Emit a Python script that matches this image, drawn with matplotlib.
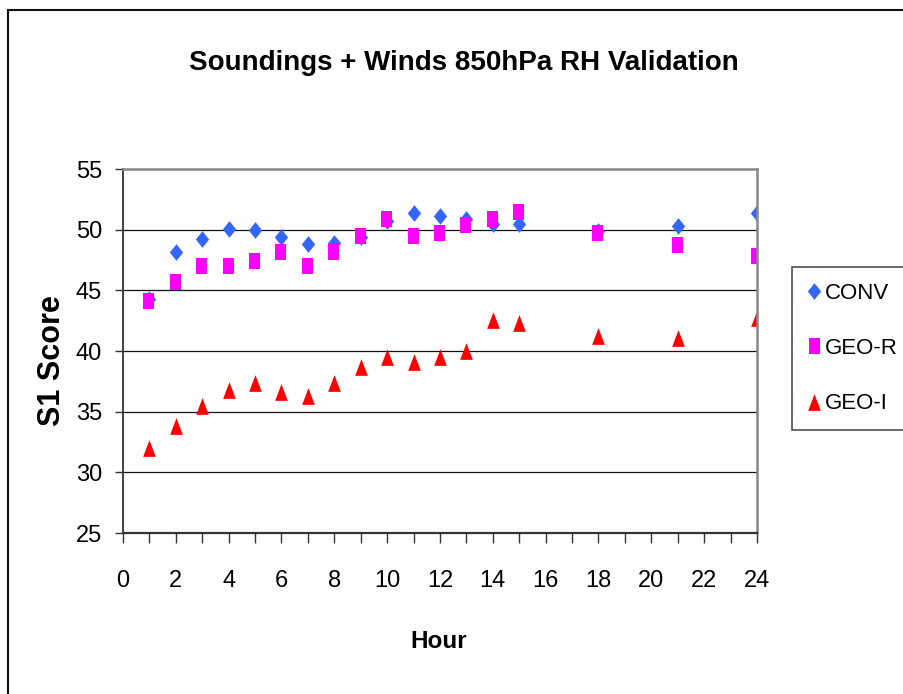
import matplotlib
matplotlib.use("Agg")
import matplotlib.pyplot as plt
from matplotlib.path import Path
from matplotlib.patches import Rectangle
from matplotlib.ticker import MultipleLocator, FuncFormatter

hours = [1, 2, 3, 4, 5, 6, 7, 8, 9, 10, 11, 12, 13, 14, 15, 18, 21, 24]
conv = [44.3, 48.2, 49.2, 50.05, 50.0, 49.4, 48.8, 48.9, 49.4, 50.7, 51.4, 51.1,
        50.9, 50.5, 50.5, 49.9, 50.3, 51.4]
geo_r = [44.1, 45.7, 47.0, 47.0, 47.4, 48.2, 47.0, 48.2, 49.5, 50.85, 49.5, 49.75,
         50.4, 50.85, 51.45, 49.75, 48.7, 47.8]
geo_i = [32.0, 33.8, 35.5, 36.8, 37.4, 36.6, 36.3, 37.4, 38.7, 39.5, 39.1, 39.5,
         40.0, 42.55, 42.3, 41.25, 41.05, 42.75]
series_names = ["CONV", "GEO-R", "GEO-I"]
y_ticks = [25, 30, 35, 40, 45, 50, 55]

plt.rcParams["font.family"] = ["Liberation Sans Narrow", "Liberation Sans", "DejaVu Sans"]

diamond = Path([(0, 1), (0.8, 0), (0, -1), (-0.8, 0), (0, 1)],
               [Path.MOVETO, Path.LINETO, Path.LINETO, Path.LINETO, Path.CLOSEPOLY])
rect = Path([(-0.72, -1), (0.72, -1), (0.72, 1), (-0.72, 1), (-0.72, -1)],
            [Path.MOVETO, Path.LINETO, Path.LINETO, Path.LINETO, Path.CLOSEPOLY])
tri = Path([(0, 1), (0.76, -1), (-0.76, -1), (0, 1)],
           [Path.MOVETO, Path.LINETO, Path.LINETO, Path.CLOSEPOLY])

fig = plt.figure(figsize=(9.04, 6.94), dpi=100)
W, H = 904, 694
ax = fig.add_axes([123 / W, 1 - 533 / H, (757 - 123) / W, (533 - 169) / H])

ax.plot(hours, conv, linestyle="none", marker=diamond, markersize=12,
        color="#3366FF", markeredgewidth=0, label=series_names[0])
ax.plot([h - 0.04 for h in hours], geo_r, linestyle="none", marker=rect, markersize=11,
        color="#FF00FF", markeredgewidth=0, label=series_names[1])
ax.plot(hours, geo_i, linestyle="none", marker=tri, markersize=12,
        color="#FF0000", markeredgewidth=0, label=series_names[2])

ax.set_xlim(0, 24)
ax.set_ylim(25, 55)
ax.set_yticks(y_ticks)
ax.xaxis.set_major_locator(MultipleLocator(2))
ax.xaxis.set_minor_locator(MultipleLocator(1))
ax.xaxis.set_major_formatter(FuncFormatter(lambda v, p: f"{int(v)}"))
for y in y_ticks[1:-1]:
    ax.axhline(y, color="#111111", linewidth=0.9, zorder=0)

ax.tick_params(axis="y", direction="out", length=6, width=1, color="#333333",
               labelsize=17, pad=9)
ax.tick_params(axis="x", which="both", direction="out", length=7.5, width=1,
               color="#333333", labelsize=17, pad=19)
ax.tick_params(axis="x", which="minor", labelbottom=False)

ax.spines["left"].set_color("#333333")
ax.spines["left"].set_linewidth(1.3)
ax.spines["bottom"].set_color("#333333")
ax.spines["bottom"].set_linewidth(1.6)
ax.spines["top"].set_color("#888888")
ax.spines["top"].set_linewidth(1.8)
ax.spines["right"].set_color("#888888")
ax.spines["right"].set_linewidth(1.8)

fig.text(464 / W, 1 - 63 / H, "Soundings + Winds 850hPa RH Validation",
         ha="center", va="center", fontsize=20, fontweight="bold")
fig.text(439 / W, 1 - 641 / H, "Hour", ha="center", va="center",
         fontsize=17.5, fontweight="bold")
fig.text(52 / W, 1 - 361 / H, "S1 Score", ha="center", va="center", rotation=90,
         fontsize=22, fontweight="bold")

leg = fig.legend(loc="upper left", bbox_to_anchor=(792 / W, 1 - 267 / H),
                 frameon=True, fancybox=False, fontsize=16, handlelength=0.6,
                 handletextpad=0.2, labelspacing=1.55, borderpad=0.7,
                 borderaxespad=0)
leg.get_frame().set_edgecolor("#222222")
leg.get_frame().set_linewidth(1.2)

fig.patches.append(Rectangle((8 / W, -0.1), 1.2, 1.1 - 10 / H,
                             transform=fig.transFigure, fill=False,
                             edgecolor="#111111", linewidth=1.5))

fig.savefig("out.png", dpi=100)
